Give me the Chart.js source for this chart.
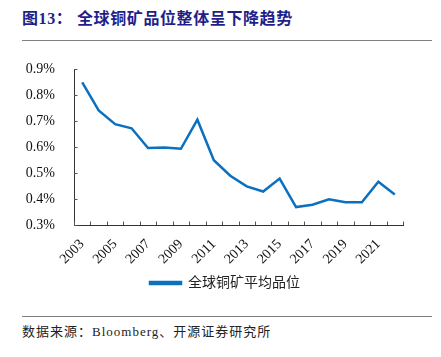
<!DOCTYPE html>
<html>
<head>
<meta charset="utf-8">
<script src="https://cdn.jsdelivr.net/npm/chart.js@4.4.1/dist/chart.umd.min.js"></script>
<style>
  html, body { margin: 0; padding: 0; background: #fff; }
  body { width: 441px; height: 357px; position: relative; overflow: hidden; }
  #title { position: absolute; left: 22px; top: 5px; font-family: "Liberation Serif", "Noto Sans CJK SC", serif; font-weight: bold; font-size: 16px; letter-spacing: 0.6px; color: #1f1f8a; white-space: nowrap; }
  #rule1 { position: absolute; left: 22px; top: 40px; width: 410px; height: 1px; background: #808080; }
  #rule2 { position: absolute; left: 22px; top: 316px; width: 410px; height: 1px; background: #808080; }
  #source { position: absolute; left: 22px; top: 321px; font-family: "Liberation Serif", "Noto Sans CJK SC", serif; font-size: 13px; letter-spacing: 1px; color: #222; white-space: nowrap; }
  #wrap { position: absolute; left: 0; top: 50px; width: 441px; height: 250px; }
</style>
</head>
<body>
<div id="title">图13：&nbsp;全球铜矿品位整体呈下降趋势</div>
<div id="rule1"></div>
<div id="wrap"><canvas id="c"></canvas></div>
<div id="rule2"></div>
<div id="source">数据来源：Bloomberg、开源证券研究所</div>
<script>
const years = ["2003","2004","2005","2006","2007","2008","2009","2010","2011","2012","2013","2014","2015","2016","2017","2018","2019","2020","2021","2022"];
const grade = [0.850,0.742,0.689,0.673,0.597,0.599,0.594,0.706,0.550,0.490,0.449,0.429,0.479,0.369,0.378,0.399,0.388,0.388,0.467,0.418];
const seriesName = "全球铜矿平均品位";
const yTicks = [0.3,0.4,0.5,0.6,0.7,0.8,0.9];

const serif = '"Liberation Serif", "Noto Sans CJK SC", serif';

const innerTicks = {
  id: 'innerTicks',
  afterDatasetsDraw(chart) {
    const ctx = chart.ctx;
    const xs = chart.scales.x, ys = chart.scales.y;
    const area = chart.chartArea;
    ctx.save();
    ctx.strokeStyle = '#555';
    ctx.lineWidth = 1;
    ctx.beginPath();
    yTicks.forEach(v => {
      const py = Math.round(ys.getPixelForValue(v)) + 0.5;
      ctx.moveTo(area.left, py);
      ctx.lineTo(area.left + 3.5, py);
    });
    for (let i = 0; i <= years.length; i++) {
      const px = Math.round(xs.getPixelForValue(i - 0.5)) + 0.5;
      ctx.moveTo(px, area.bottom);
      ctx.lineTo(px, area.bottom - 3.5);
    }
    ctx.stroke();
    ctx.restore();
  }
};

new Chart(document.getElementById('c'), {
  type: 'line',
  data: {
    labels: years,
    datasets: [{
      label: seriesName,
      data: grade,
      borderColor: '#0b70bf',
      backgroundColor: '#0b70bf',
      borderWidth: 2.5,
      pointRadius: 0,
      tension: 0,
      fill: false
    }]
  },
  plugins: [innerTicks],
  options: {
    responsive: true,
    maintainAspectRatio: false,
    animation: false,
    devicePixelRatio: 1,
    layout: { padding: { left: 9, right: 0, top: 19, bottom: 0 } },
    plugins: {
      tooltip: { enabled: false },
      legend: {
        position: 'bottom',
        labels: {
          boxWidth: 31,
          boxHeight: 2,
          color: '#222',
          padding: 9,
          font: { family: serif, size: 14 }
        }
      }
    },
    scales: {
      x: {
        offset: true,
        grid: { display: false },
        border: { display: true, color: '#333', width: 1 },
        ticks: {
          autoSkip: false,
          maxRotation: 45,
          minRotation: 45,
          color: '#111',
          padding: 3,
          font: { family: serif, size: 14 },
          callback: function(v, i) { return i % 2 === 0 ? years[i] : ''; }
        },
        afterFit: function(s) { s.height = 42; }
      },
      y: {
        min: 0.3,
        max: 0.9,
        afterBuildTicks: function(s) { s.ticks = yTicks.map(v => ({ value: v })); },
        grid: { display: false },
        border: { display: true, color: '#333', width: 1 },
        ticks: {
          color: '#111',
          padding: 11,
          font: { family: serif, size: 14 },
          callback: function(v) { return v.toFixed(1) + '%'; }
        },
        afterFit: function(s) { s.width = 65; }
      },
      pad: {
        position: 'right',
        display: true,
        grid: { display: false },
        border: { display: false },
        ticks: { display: false },
        afterFit: function(s) { s.width = 38; }
      }
    }
  }
});
</script>
</body>
</html>
